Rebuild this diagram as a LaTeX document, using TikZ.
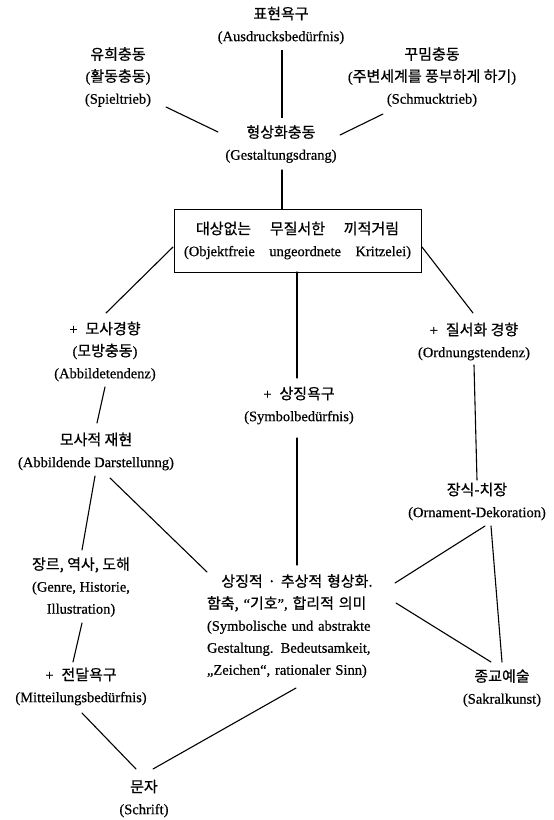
\documentclass[tikz,border=0pt]{standalone}
\usepackage{fontspec}
\setmainfont{Liberation Serif}[FakeBold=0.5]
\newfontfamily\kr{Noto Sans CJK KR}[FakeBold=0.7]
\usetikzlibrary{calc}
\newcommand\K[1]{{\kr\fontsize{15}{22}\selectfont#1}}
\newcommand\plus{+\hspace{0.55em}}
\begin{document}
\begin{tikzpicture}[x=1pt,y=-1pt,
  lbl/.style={align=center, inner sep=0pt, font=\fontsize{14.5}{22}\selectfont},
  conn/.style={line width=1.1pt, line cap=round},
  thick conn/.style={line width=1.6pt}]
\useasboundingbox (0,0) rectangle (554,820);
% nodes
\node[lbl] (aus) at (281,25.5) {\K{표현욕구}\\(Ausdrucksbedürfnis)};
\node[lbl] (spiel) at (118,77) {\K{유희충동}\\(\K{활동충동})\\(Spieltrieb)};
\node[lbl] (schm) at (432,77) {\K{꾸밈충동}\\(\K{주변세계를 풍부하게 하기})\\(Schmucktrieb)};
\node[lbl] (ges) at (281,144) {\K{형상화충동}\\(Gestaltungsdrang)};
\node[lbl, draw, line width=1pt, minimum width=247pt, minimum height=63pt] (box) at (297.5,240.5)
  {\makebox[203pt][s]{\K{대상없는} \K{무질서한} \K{끼적거림}}\\\makebox[227pt][s]{(Objektfreie ungeordnete Kritzelei)}};
\node[lbl] (mosa) at (105,351.5) {\plus\K{모사경향}\\(\K{모방충동})\\(Abbildetendenz)};
\node[lbl] (sym) at (299,405.5) {\plus\K{상징욕구}\\(Symbolbedürfnis)};
\node[lbl] (ord) at (474,341.5) {\plus\K{질서화 경향}\\(Ordnungstendenz)};
\node[lbl] (abb) at (96,451.5) {\K{모사적 재현}\\(Abbildende Darstellunng)};
\node[lbl] (orn) at (477,501.5) {\K{장식-치장}\\(Ornament-Dekoration)};
\node[lbl] (genre) at (81,587) {\K{장르, 역사, 도해}\\(Genre, Historie,\\Illustration)};
\node[lbl, text width=180pt] (blk) at (297,626)
  {\K{상징적 · 추상적 형상화.}\\
   \makebox[180pt][s]{\K{함축,} “\K{기호}”, \K{합리적} \K{의미}}\\
   \makebox[180pt][s]{(Symbolische und abstrakte}\\
   \makebox[180pt][s]{Gestaltung. Bedeutsamkeit,}\\
   \makebox[180pt][s]{„Zeichen“, rationaler Sinn)}};
\node[lbl] (sak) at (502,688) {\K{종교예술}\\(Sakralkunst)};
\node[lbl] (mitt) at (81,686.5) {\plus\K{전달욕구}\\(Mitteilungsbedürfnis)};
\node[lbl] (schrift) at (144,798.5) {\K{문자}\\(Schrift)};
% connectors
\draw[thick conn] ($(aus)+(1,24.5)$) -- ($(ges)+(1,-26)$);
\draw[conn] ($(spiel)+(48,30)$) -- ($(ges)+(-63,-12)$);
\draw[conn] ($(schm)+(-49,37)$) -- ($(ges)+(59,-9)$);
\draw[conn] ($(ges)+(1,26)$) -- ($(box)+(-15.5,-31.5)$);
\draw[conn] ($(box)+(-124.5,6.5)$) -- ($(mosa)+(1,-38.5)$);
\draw[conn] ($(box)+(124.5,6.5)$) -- ($(ord)+(-1,-28.5)$);
\draw[conn] ($(box)+(-0.5,31.5)$) -- ($(sym)+(-2,-27.5)$);
\draw[conn] ($(sym)+(-2,32.5)$) -- ($(blk)+(0,-61)$);
\draw[conn] ($(mosa)+(0,35.5)$) -- ($(abb)+(1,-28.5)$);
\draw[conn] ($(ord)+(0,23.5)$) -- ($(orn)+(0,-21.5)$);
\draw[conn] ($(abb)+(-1,24.5)$) -- ($(genre)+(1,-37)$);
\draw[conn] ($(abb)+(14,26.5)$) -- ($(blk)+(-90,-54)$);
\draw[conn] ($(genre)+(1,36)$) -- ($(mitt)+(-8,-24.5)$);
\draw[conn] ($(mitt)+(1,26.5)$) -- ($(schrift)+(-8,-29.5)$);
\draw[conn] ($(blk)+(-1,62)$) -- ($(schrift)+(9,-29.5)$);
\draw[conn] ($(orn)+(8,24.5)$) -- ($(blk)+(98,-43)$);
\draw[conn] ($(orn)+(14,24.5)$) -- ($(sak)+(0,-26)$);
\draw[conn] ($(blk)+(99,-23)$) -- ($(sak)+(-11,-26)$);
\end{tikzpicture}
\end{document}
